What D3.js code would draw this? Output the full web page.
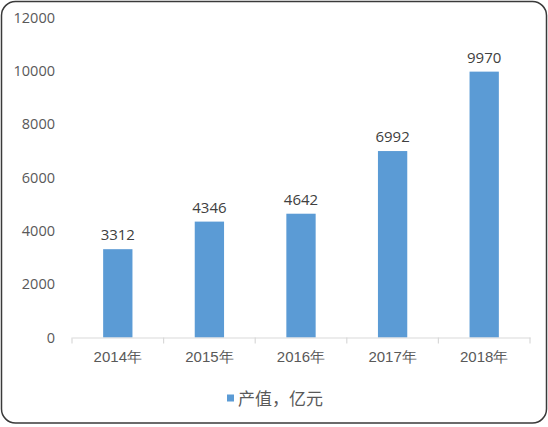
<!DOCTYPE html>
<html><head><meta charset="utf-8">
<script src="https://cdn.jsdelivr.net/npm/d3@7/dist/d3.min.js"></script>
<style>
html,body{margin:0;padding:0;background:#fff;}
svg{display:block;font-family:"Open Sans","Noto Sans CJK SC",sans-serif;}
</style></head>
<body><svg id="c" width="548" height="427"></svg>
<script>
const categories = ["2014年","2015年","2016年","2017年","2018年"];
const values = [3312,4346,4642,6992,9970];
const yTicks = [0,2000,4000,6000,8000,10000,12000];
const seriesName = "产值，亿元";

const svg = d3.select("#c");
svg.append("rect").attr("x",1.5).attr("y",1.5).attr("width",545).attr("height",421.5)
  .attr("rx",14).attr("ry",14).attr("fill","#fff").attr("stroke","#3a3a3a").attr("stroke-width",1.5);

const x = d3.scaleBand().domain(categories).range([72,530]).paddingInner(0.68).paddingOuter(0.34);
const y = d3.scaleLinear().domain([0,12000]).range([337.5,17.5]);

const yAxis = svg.append("g").attr("transform","translate(55,0)")
  .call(d3.axisLeft(y).tickValues(yTicks).tickFormat(d3.format("d")).tickSize(0).tickPadding(0));
yAxis.select(".domain").remove();
yAxis.selectAll("text").attr("fill","#595959").style("font-size","14.5px")
  .style("font-family","'Open Sans',sans-serif");

svg.selectAll(".bar").data(values).enter().append("rect")
  .attr("x",(d,i)=>x(categories[i])).attr("width",x.bandwidth())
  .attr("y",d=>y(d)).attr("height",d=>y(0)-y(d)).attr("fill","#5B9BD5");

svg.selectAll(".lbl").data(values).enter().append("text")
  .attr("x",(d,i)=>x(categories[i])+x.bandwidth()/2).attr("y",d=>y(d)-9)
  .attr("text-anchor","middle").attr("fill","#404040").style("font-size","15px")
  .text(d=>d);

const xAxis = svg.append("g").attr("transform","translate(0,337.5)")
  .call(d3.axisBottom(x).tickSize(0).tickPadding(14));
xAxis.select(".domain").attr("stroke","#d9d9d9").attr("stroke-width",1.2);
xAxis.selectAll("text").attr("fill","#595959").style("font-size","15px");
const bounds = [0,1,2,3,4,5].map(i=>72+i*(458/5));
xAxis.selectAll(".sep").data(bounds).enter().append("line")
  .attr("x1",d=>d).attr("x2",d=>d).attr("y1",0).attr("y2",6)
  .attr("stroke","#d9d9d9").attr("stroke-width",1.2);

const lg = svg.append("g");
lg.append("rect").attr("x",227).attr("y",394.5).attr("width",7).attr("height",7).attr("fill","#5B9BD5");
lg.append("text").attr("x",238).attr("y",404.5).attr("fill","#595959").style("font-size","17px").text(seriesName);
</script></body></html>
